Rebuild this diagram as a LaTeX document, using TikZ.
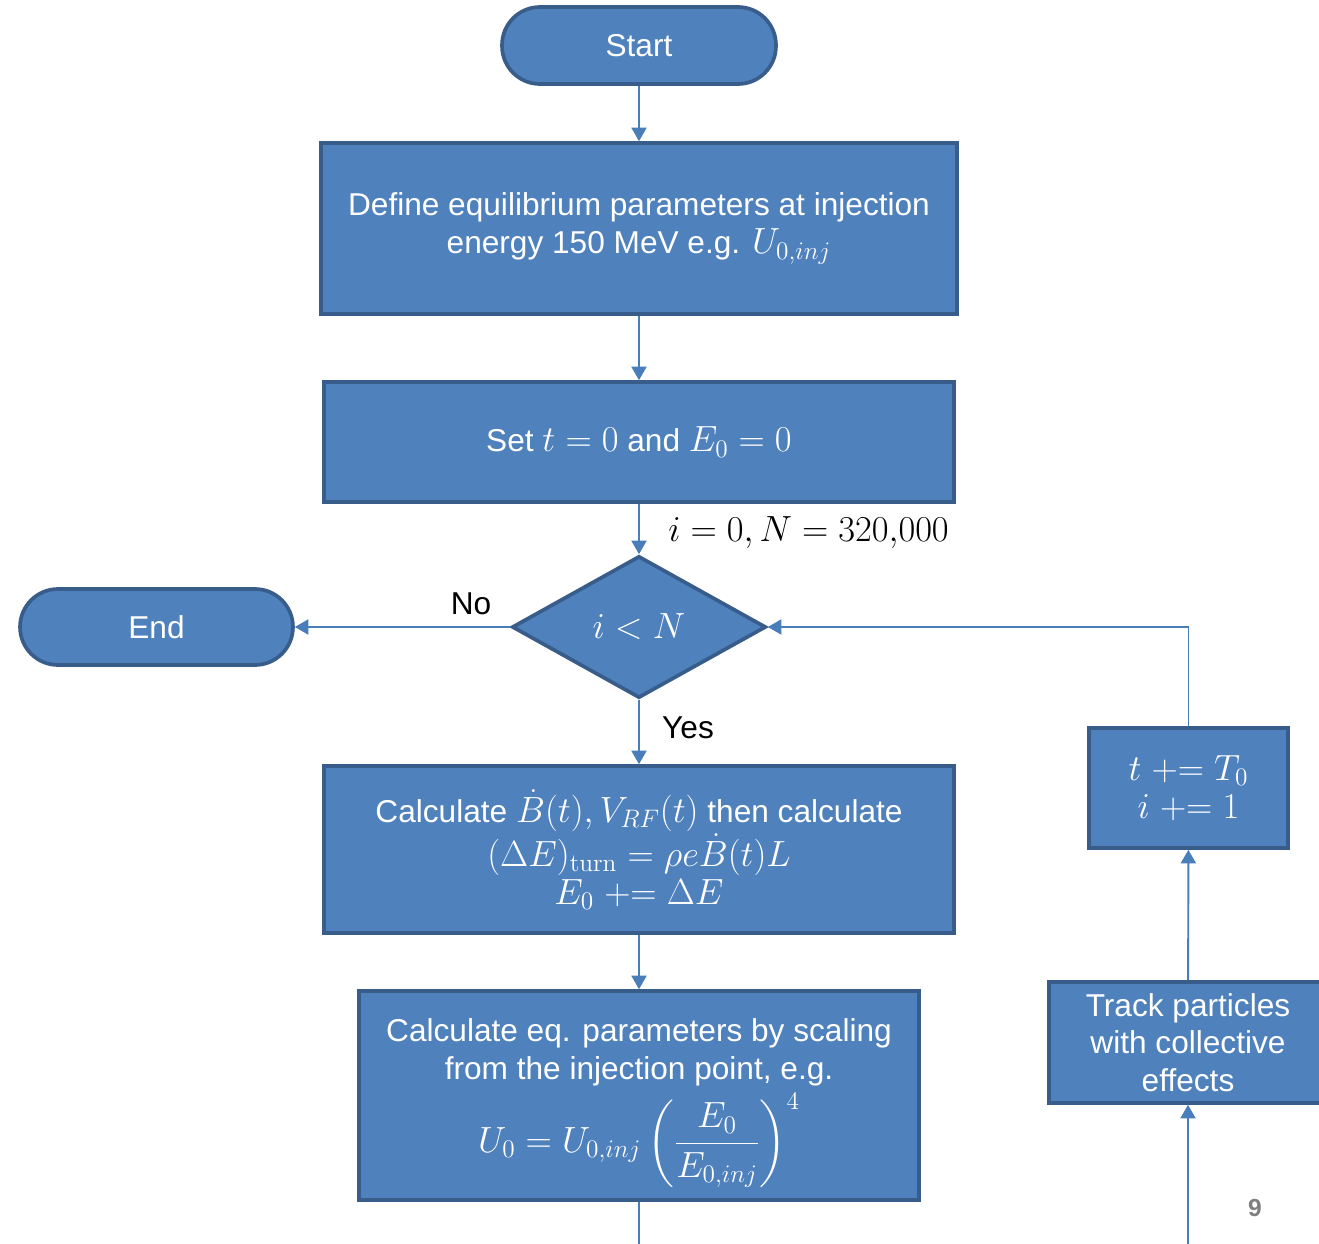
\documentclass[tikz,border=0pt]{standalone}
\usepackage{amsmath}
\usepackage[no-math]{fontspec}
\setmainfont{Liberation Sans}
\DeclareMathSizes{18}{20.5}{15}{11}
\usetikzlibrary{shapes.geometric,arrows.meta}
\definecolor{boxfill}{HTML}{4F81BD}
\definecolor{boxline}{HTML}{385D8A}
\definecolor{conn}{HTML}{4A7EBB}
\definecolor{pagegray}{HTML}{7F7F7F}
\begin{document}
\begin{tikzpicture}[x=0.02cm,y=-0.02cm,
  every node/.style={font=\fontsize{18}{21.5}\selectfont},
  blk/.style={draw=boxline,fill=boxfill,line width=2.1pt,text=white,align=center,inner sep=0pt},
  term/.style={blk,rounded corners=0.76cm},
  dec/.style={blk,diamond,minimum width=5.08cm,minimum height=2.84cm},
  arr/.style={draw=conn,line width=1.1pt,-{Triangle[width=0.3cm,length=0.27cm]}},
  ln/.style={draw=conn,line width=1.1pt},
  lbl/.style={text=black,inner sep=0pt}]
\useasboundingbox (0,0) rectangle (1319,1244);
\clip (0,0) rectangle (1319,1244);
\fill[white] (0,0) rectangle (1319,1244);

\node[term,minimum width=5.48cm,minimum height=1.54cm] (start) at (639,45.5) {Start};
\node[blk,minimum width=12.72cm,minimum height=3.42cm] (box1) at (639,228.5)
  {\rule{0pt}{12pt}Define equilibrium parameters at injection\\ energy 150 MeV e.g. $U_{0,inj}$};
\node[blk,minimum width=12.6cm,minimum height=2.4cm] (box2) at (639,442)
  {Set $t=0$ and $E_0=0$};
\node[dec] (dia) at (639,627) {$i<N$};
\node[term,minimum width=5.46cm,minimum height=1.52cm] (end) at (156.5,627) {End};
\node[blk,minimum width=12.6cm,minimum height=3.34cm] (box3) at (639,849.5)
  {Calculate $\dot B(t),V_{RF}(t)$ then calculate\\
   $(\Delta E)_{\mathrm{turn}}=\rho e\dot B(t)L$\\
   $E_0\mathrel{+}=\Delta E$};
\node[blk,minimum width=11.2cm,minimum height=4.18cm] (box4) at (639,1095.5)
  {\rule{0pt}{22pt}Calculate eq. parameters by scaling\\
   from the injection point, e.g.\\[3pt]
   $\displaystyle U_0=U_{0,inj}\left(\frac{E_0}{E_{0,inj}}\right)^{4}$};
\node[blk,minimum width=3.98cm,minimum height=2.4cm] (tbox) at (1188.5,788)
  {$t\mathrel{+}=T_0$\\ $i\mathrel{+}=1$};
\node[blk,minimum width=5.56cm,minimum height=2.42cm] (track) at (1188,1042.5)
  {Track particles\\ with collective\\ effects};

\node[lbl,anchor=west] (initlbl) at (668,533) {$i=0,N=320{,}000$};
\node[lbl] (nolbl) at (471,604) {No};
\node[lbl] (yeslbl) at (688,728) {Yes};
\node[text=pagegray,font=\fontsize{14}{16}\selectfont\bfseries] (pg) at (1255,1208) {9};

\coordinate (b4out) at (639,1260);
\coordinate (trkin) at (1188,1260);

\draw[arr] (start) -- (box1);
\draw[arr] (box1) -- (box2);
\draw[arr] (box2) -- (dia);
\draw[arr] (dia) -- (box3);
\draw[arr] (box3) -- (box4);
\draw[arr] (dia.west) -- (end.east);
\draw[ln] (box4.south) -- (b4out);
\draw[arr] (trkin) -- (track.south);
\draw[arr] (track) -- (tbox);
\draw[arr] (tbox.north) |- (dia.east);
\end{tikzpicture}
\end{document}
